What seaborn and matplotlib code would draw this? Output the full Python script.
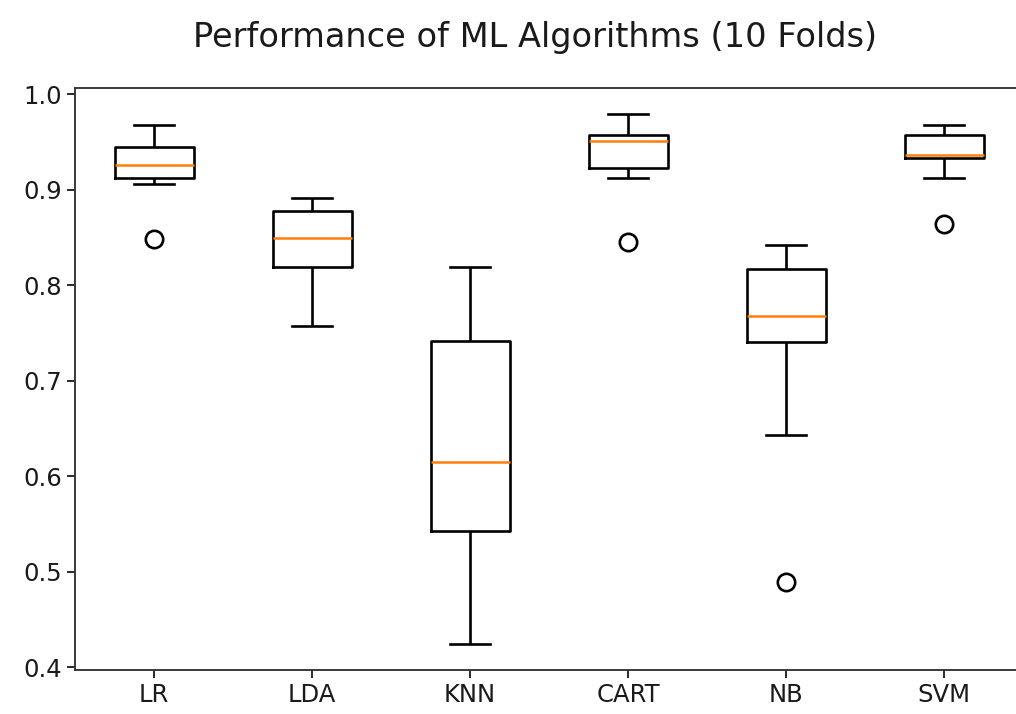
import numpy as np
import pandas as pd
import matplotlib
matplotlib.use("Agg")
import matplotlib.pyplot as plt
import seaborn as sns

# Cross-validation accuracy of each algorithm over 10 folds
names = ["LR", "LDA", "KNN", "CART", "NB", "SVM"]
lr_scores = [0.849, 0.906, 0.910, 0.918, 0.922, 0.930, 0.942, 0.946, 0.955, 0.968]
lda_scores = [0.758, 0.797, 0.816, 0.828, 0.845, 0.855, 0.875, 0.879, 0.886, 0.892]
knn_scores = [0.425, 0.521, 0.539, 0.555, 0.601, 0.630, 0.730, 0.746, 0.781, 0.819]
cart_scores = [0.845, 0.912, 0.918, 0.938, 0.949, 0.953, 0.954, 0.958, 0.966, 0.979]
nb_scores = [0.489, 0.643, 0.737, 0.753, 0.762, 0.774, 0.814, 0.818, 0.829, 0.842]
svm_scores = [0.864, 0.912, 0.933, 0.935, 0.936, 0.938, 0.955, 0.959, 0.962, 0.968]

results = [lr_scores, lda_scores, knn_scores, cart_scores, nb_scores, svm_scores]
df = pd.DataFrame({
    "Algorithm": np.repeat(names, [len(r) for r in results]),
    "Accuracy": np.concatenate(results),
})

s = 1.69  # scale factor relative to matplotlib defaults

fig = plt.figure(figsize=(10.16, 7.14), dpi=100)
ax = fig.add_axes([75 / 1016, 1 - 670 / 714, 948 / 1016, 582 / 714])

sns.boxplot(
    data=df, x="Algorithm", y="Accuracy", order=names, ax=ax,
    fill=False, color="black", width=0.5, linewidth=1.9, whis=1.5,
    medianprops=dict(color="#ff7f0e", linewidth=1.8),
    flierprops=dict(marker="o", markerfacecolor="none", markeredgecolor="black",
                    markersize=12.5, markeredgewidth=1.9),
)

ax.set_xlabel("")
ax.set_ylabel("")
ax.set_xlim(-0.5, 5.5)
ax.set_yticks([0.4, 0.5, 0.6, 0.7, 0.8, 0.9, 1.0])
ax.tick_params(labelsize=17.5, length=3.5 * s, width=0.8 * s, color="#222222",
               labelcolor="#1a1a1a")
for sp in ax.spines.values():
    sp.set_linewidth(0.8 * s)
    sp.set_color("#333333")
    sp.set_visible(True)

fig.suptitle("Performance of ML Algorithms (10 Folds)", x=535 / 1016,
             y=1 - 21 / 714, va="top", fontsize=24.2, color="#1a1a1a")

fig.savefig("out.png", dpi=100)
